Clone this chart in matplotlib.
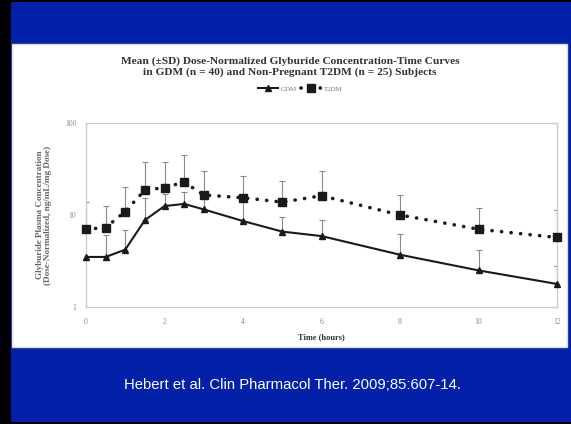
import numpy as np
import matplotlib.pyplot as plt
from matplotlib.patches import Rectangle
from matplotlib.lines import Line2D

# data (log scale)
time_h = [0, 0.5, 1, 1.5, 2, 2.5, 3, 4, 5, 6, 8, 10, 12]
gdm_mean = [3.5, 3.5, 4.2, 8.8, 12.5, 13.2, 11.5, 8.6, 6.6, 5.9, 3.7, 2.5, 1.78]
gdm_upper = [3.5, 6.0, 6.9, 15.2, 17.0, 18.0, 15.0, 14.4, 9.6, 8.8, 6.2, 4.2, 2.8]
t2dm_mean = [7.0, 7.3, 10.9, 18.7, 19.8, 22.8, 16.5, 15.4, 13.8, 16.2, 10.0, 7.0, 5.7]
t2dm_upper = [13.7, 12.5, 20.3, 38.0, 38.0, 44.9, 30.0, 26.5, 23.4, 29.9, 16.5, 11.8, 11.3]

title = ("Mean (\u00b1SD) Dose-Normalized Glyburide Concentration-Time Curves\n"
         "in GDM (n = 40) and Non-Pregnant T2DM (n = 25) Subjects")
ylab = "Glyburide Plasma Concentration\n(Dose-Normalized, ng/mL/mg Dose)"
citation = "Hebert et al. Clin Pharmacol Ther. 2009;85:607-14."

blue = "#0320a8"
W, H = 571, 424

fig = plt.figure(figsize=(5.71, 4.24), dpi=100)
fig.patch.set_facecolor(blue)


def px_rect(x0, y0, x1, y1, **kw):
    fig.patches.append(Rectangle((x0 / W, 1 - y1 / H), (x1 - x0) / W, (y1 - y0) / H,
                                 transform=fig.transFigure, zorder=-5, **kw))


px_rect(12, 44, 567, 347, facecolor="white", edgecolor="#dddddd", linewidth=1)
px_rect(0, 0, 11, 424, facecolor="black", edgecolor="none")
px_rect(0, 0, 571, 2, facecolor="black", edgecolor="none")
px_rect(0, 422, 571, 424, facecolor="black", edgecolor="none")

ax = fig.add_axes([86 / W, 1 - 307 / H, (557 - 86) / W, (307 - 123) / H])
ax.set_facecolor("white")
ax.set_yscale("log")
ax.set_ylim(1, 100)
ax.set_xlim(0, 12)

dots = (0, (0.05, 2.6))
err_kw = dict(ecolor="#8a8a8a", elinewidth=0.8, capsize=2, capthick=0.8)
t2_err = [np.zeros(len(time_h)), np.array(t2dm_upper) - np.array(t2dm_mean)]
gd_err = [np.zeros(len(time_h)), np.array(gdm_upper) - np.array(gdm_mean)]
ax.errorbar(time_h, t2dm_mean, yerr=t2_err, fmt="none", zorder=2, **err_kw)
ax.errorbar(time_h, gdm_mean, yerr=gd_err, fmt="none", zorder=2, **err_kw)
ax.plot(time_h, t2dm_mean, color="#1a1a1a", linestyle=dots, linewidth=2.6,
        dash_capstyle="round", marker="s", markersize=6, zorder=3, clip_on=False)
ax.plot(time_h, gdm_mean, color="#1a1a1a", linestyle="-", linewidth=1.5,
        marker="^", markersize=4.5, zorder=3, clip_on=False)

ax.set_xticks([0, 2, 4, 6, 8, 10, 12])
ax.set_yticks([1, 10, 100])
ax.set_yticklabels(["1", "10", "100"])
ax.minorticks_off()
ax.tick_params(length=0, labelsize=5.5, colors="#888888")
ax.tick_params(axis="x", pad=8)
ax.tick_params(axis="y", pad=7)
for lab in ax.get_xticklabels() + ax.get_yticklabels():
    lab.set_family("Liberation Serif")
for s in ax.spines.values():
    s.set_color("#cccccc")
    s.set_linewidth(1)

ax.set_xlabel("Time (hours)", fontsize=6, family="Liberation Serif",
              fontweight="bold", color="#333333", labelpad=5)
ax.set_ylabel(ylab, fontsize=6.6, family="Liberation Serif", fontweight="bold",
              color="#666666", labelpad=9, linespacing=1.15)

fig.text(290 / W, 1 - 67 / H, title, ha="center", va="center", fontsize=8.2,
         family="Liberation Serif", fontweight="bold", color="#333333", linespacing=1.2)

handles = [Line2D([], [], color="#1a1a1a", linestyle="-", linewidth=1.5, marker="^",
                  markersize=4.5),
           Line2D([], [], color="#1a1a1a", linestyle=dots, linewidth=2.6,
                  dash_capstyle="round", marker="s", markersize=6)]
fig.legend(handles, ["GDM", "T2DM"], loc="center", bbox_to_anchor=(300 / W, 1 - 89 / H),
           ncol=2, frameon=False, handlelength=3, columnspacing=0.6, handletextpad=0.3,
           prop={"family": "Liberation Serif", "size": 5}, labelcolor="#777777")

fig.text(292 / W, 1 - 385 / H, citation, ha="center", va="center", fontsize=10.7,
         family="Liberation Sans", color="white")

fig.savefig("out.png", dpi=100, facecolor=blue)
